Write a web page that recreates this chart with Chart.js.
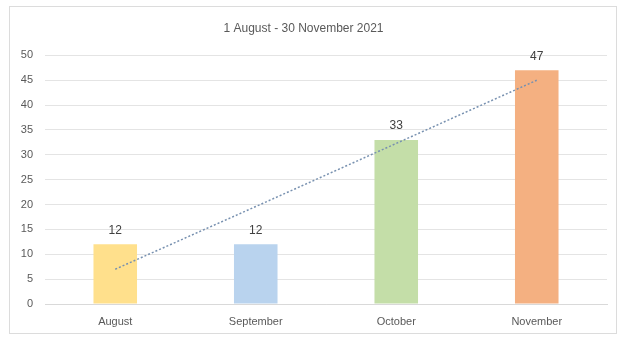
<!DOCTYPE html>
<html>
<head>
<meta charset="utf-8">
<script src="https://cdn.jsdelivr.net/npm/chart.js@4"></script>
<style>
  body { margin: 0; background: #fff; }
  #frame { position: absolute; left: 9px; top: 6px; width: 606px; height: 326px; border: 1px solid #dcdcdc; }
  #wrap { position: absolute; left: 0; top: 0; width: 617px; height: 338px; }
</style>
</head>
<body>
<div id="frame"></div>
<div id="wrap"><canvas id="chart" width="617" height="338"></canvas></div>
<script>
var months = ['August', 'September', 'October', 'November'];
var counts = [12, 12, 33, 47];
var trend = [7, 19.6, 32.3, 45];
var barColors = ['#ffe08c', '#b9d3ee', '#c4dea8', '#f4b081'];
var yTicks = [0, 5, 10, 15, 20, 25, 30, 35, 40, 45, 50];

var barLabels = {
    id: 'barLabels',
    afterDatasetsDraw(chart) {
        const ctx = chart.ctx;
        const meta = chart.getDatasetMeta(1);
        ctx.save();
        ctx.font = '12px "Liberation Sans", Arial, sans-serif';
        ctx.fillStyle = '#404040';
        ctx.textAlign = 'center';
        ctx.textBaseline = 'bottom';
        meta.data.forEach((bar, i) => {
            ctx.fillText(counts[i], bar.x, bar.y - 8);
        });
        ctx.restore();
    }
};

const ctx = document.getElementById('chart');
var chart = new Chart(ctx, {
    data: {
        labels: months,
        datasets: [{
            type: 'line',
            data: trend,
            borderColor: '#7891b0',
            borderWidth: 1.5,
            borderDash: [2, 2],
            pointRadius: 0,
            order: 0
        }, {
            type: 'bar',
            data: counts,
            backgroundColor: barColors,
            barPercentage: 0.62,
            categoryPercentage: 0.5,
            order: 1
        }]
    },
    options: {
        responsive: false,
        animation: false,
        layout: { padding: { left: 0, right: 10, top: 0, bottom: 0 } },
        plugins: {
            legend: { display: false },
            tooltip: { enabled: false },
            title: {
                display: true,
                text: '1 August - 30 November 2021',
                color: '#595959',
                font: { family: '"Liberation Sans", Arial, sans-serif', size: 12, weight: 'normal' },
                padding: { top: 21, bottom: 20 }
            }
        },
        scales: {
            x: {
                afterFit(scale) { scale.height = 34; },
                grid: { display: false },
                border: { color: '#d9d9d9' },
                ticks: { color: '#595959', font: { family: '"Liberation Sans", Arial, sans-serif', size: 11 }, padding: 3 }
            },
            y: {
                min: 0,
                max: 50,
                afterBuildTicks(scale) { scale.ticks = yTicks.map(v => ({ value: v })); },
                afterFit(scale) { scale.width = 45; },
                grid: { color: '#e4e4e4', drawTicks: false },
                border: { display: false },
                ticks: { color: '#595959', font: { family: '"Liberation Sans", Arial, sans-serif', size: 11 }, padding: 12 }
            }
        }
    },
    plugins: [barLabels]
});
</script>
</body>
</html>
